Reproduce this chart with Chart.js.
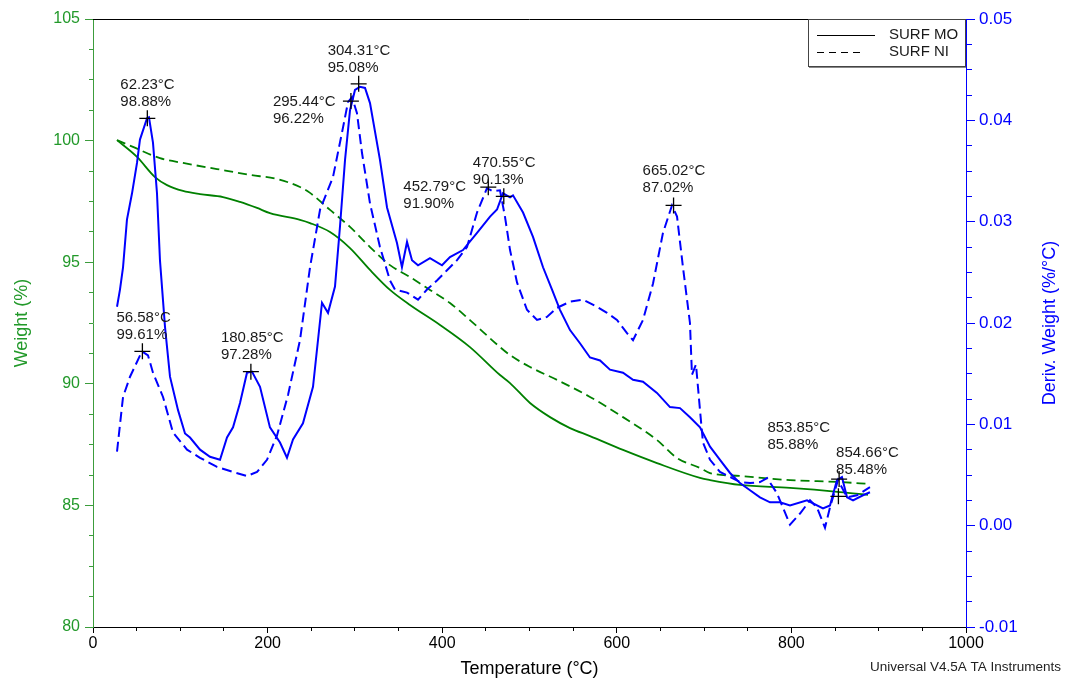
<!DOCTYPE html>
<html>
<head>
<meta charset="utf-8">
<title>TGA / DTG - SURF MO vs SURF NI</title>
<script src="https://cdn.jsdelivr.net/npm/chart.js@4.4.1/dist/chart.umd.min.js"></script>
<style>
  html, body { margin: 0; padding: 0; background: #fff; }
  #wrap { width: 1065px; height: 684px; }
</style>
</head>
<body>
<div id="wrap"><canvas id="tga-chart" width="1065" height="684"></canvas></div>
<script>
// ----------------------------------------------------------------
// Data
// ----------------------------------------------------------------

// Weight (%) — SURF MO (solid green)
const moWeightTemps = [27.5, 50.4, 71.0, 84.8, 103.1, 122.6, 148.9, 168.4, 187.9, 202.7, 237.1, 248.6, 271.5, 294.4, 317.3, 340.2, 363.1, 397.5, 431.8, 466.2, 477.7, 500.6, 523.5, 546.4, 569.3, 607.1, 646.0, 695.3, 706.8, 741.1, 798.4, 855.7, 887.7];
const moWeight      = [100.02, 99.33, 98.50, 98.17, 97.93, 97.80, 97.68, 97.48, 97.23, 97.02, 96.74, 96.61, 96.24, 95.58, 94.68, 93.86, 93.24, 92.42, 91.51, 90.36, 90.03, 89.21, 88.63, 88.18, 87.85, 87.28, 86.74, 86.13, 86.04, 85.84, 85.72, 85.55, 85.43];

// Weight (%) — SURF NI (dashed green)
const niWeightTemps = [27.5, 45.8, 76.7, 103.1, 142.0, 179.8, 210.8, 237.1, 248.6, 271.5, 294.4, 317.3, 340.2, 363.1, 386.0, 408.9, 431.8, 466.2, 477.7, 500.6, 531.5, 569.3, 607.1, 646.0, 668.9, 695.3, 706.8, 741.1, 798.4, 855.7, 890.0];
const niWeight      = [100.02, 99.74, 99.28, 99.08, 98.83, 98.59, 98.42, 98.09, 97.85, 97.15, 96.45, 95.62, 94.88, 94.39, 93.86, 93.32, 92.62, 91.51, 91.18, 90.69, 90.16, 89.46, 88.63, 87.69, 86.95, 86.54, 86.33, 86.21, 86.04, 85.96, 85.88];

// Deriv. weight (%/°C) — SURF MO (solid blue)
const moDerivTemps = [27.5, 30.9, 34.4, 38.9, 44.7, 50.4, 53.8, 61.9, 64.1, 68.7, 73.3, 76.7, 82.5, 88.2, 97.4, 105.4, 111.1, 122.6, 134.0, 145.5, 153.5, 160.4, 168.4, 176.4, 182.1, 191.3, 202.7, 214.2, 222.2, 229.1, 240.5, 252.0, 262.3, 269.2, 277.2, 282.9, 288.7, 294.4, 300.1, 305.8, 311.6, 317.3, 328.7, 336.8, 348.2, 353.9, 359.7, 365.4, 372.3, 386.0, 399.8, 408.9, 423.8, 439.9, 454.8, 462.8, 469.6, 477.7, 481.1, 492.6, 504.0, 515.5, 525.8, 534.9, 546.4, 557.8, 569.3, 580.8, 592.2, 607.1, 618.6, 630.0, 646.0, 660.9, 672.4, 683.8, 695.3, 706.8, 718.2, 729.7, 741.1, 752.6, 764.0, 775.5, 786.9, 798.4, 817.9, 836.2, 844.2, 852.2, 857.9, 863.7, 870.6, 882.0, 890.0];
const moDeriv      = [0.0216, 0.0233, 0.0255, 0.0302, 0.0328, 0.0358, 0.0381, 0.0402, 0.0403, 0.0378, 0.0328, 0.0262, 0.0196, 0.0147, 0.0114, 0.0091, 0.0087, 0.0075, 0.0068, 0.0065, 0.0087, 0.0097, 0.0121, 0.0151, 0.0152, 0.0137, 0.0097, 0.0082, 0.0067, 0.0085, 0.0101, 0.0137, 0.0220, 0.0210, 0.0236, 0.0295, 0.0361, 0.0410, 0.0430, 0.0433, 0.0432, 0.0417, 0.0361, 0.0314, 0.0279, 0.0255, 0.0280, 0.0262, 0.0257, 0.0264, 0.0257, 0.0265, 0.0272, 0.0289, 0.0305, 0.0312, 0.0328, 0.0324, 0.0326, 0.0309, 0.0285, 0.0255, 0.0233, 0.0213, 0.0193, 0.0180, 0.0166, 0.0163, 0.0154, 0.0151, 0.0144, 0.0142, 0.0131, 0.0117, 0.0116, 0.0107, 0.0097, 0.0078, 0.0065, 0.0052, 0.0042, 0.0035, 0.0028, 0.0023, 0.0023, 0.0020, 0.0025, 0.0017, 0.0020, 0.0045, 0.0048, 0.0028, 0.0025, 0.0030, 0.0033];

// Deriv. weight (%/°C) — SURF NI (dashed blue)
const niDerivTemps = [27.5, 34.4, 42.4, 56.1, 63.0, 68.7, 80.2, 91.6, 107.7, 122.6, 142.0, 160.4, 176.4, 187.9, 199.3, 210.8, 223.4, 237.1, 248.6, 260.1, 274.9, 286.4, 292.1, 296.7, 302.4, 308.1, 317.3, 328.7, 340.2, 345.9, 359.7, 372.3, 382.6, 394.0, 405.5, 417.0, 428.4, 439.9, 451.3, 458.2, 466.2, 471.9, 477.7, 485.7, 497.1, 508.6, 520.0, 531.5, 546.4, 561.3, 577.3, 588.8, 600.2, 611.7, 618.6, 630.0, 641.5, 652.9, 663.2, 669.0, 675.8, 683.8, 686.1, 690.7, 695.3, 698.7, 706.8, 718.2, 729.7, 741.1, 752.6, 764.0, 772.1, 783.5, 798.4, 809.9, 821.3, 829.3, 838.5, 844.2, 853.4, 863.7, 875.1, 890.0];
const niDeriv      = [0.0073, 0.0127, 0.0147, 0.0172, 0.0168, 0.0151, 0.0127, 0.0092, 0.0075, 0.0067, 0.0058, 0.0053, 0.0049, 0.0053, 0.0065, 0.0089, 0.0129, 0.0183, 0.0255, 0.0312, 0.0344, 0.0393, 0.0418, 0.0423, 0.0407, 0.0368, 0.0318, 0.0275, 0.0242, 0.0233, 0.0230, 0.0223, 0.0233, 0.0242, 0.0252, 0.0262, 0.0275, 0.0309, 0.0333, 0.0330, 0.0331, 0.0305, 0.0272, 0.0240, 0.0213, 0.0203, 0.0206, 0.0215, 0.0221, 0.0223, 0.0216, 0.0210, 0.0203, 0.0190, 0.0183, 0.0203, 0.0239, 0.0289, 0.0316, 0.0305, 0.0255, 0.0200, 0.0149, 0.0159, 0.0114, 0.0082, 0.0065, 0.0053, 0.0048, 0.0043, 0.0042, 0.0043, 0.0047, 0.0032, 0.0001, 0.0012, 0.0025, 0.0018, -0.0002, 0.0018, 0.0045, 0.0028, 0.0030, 0.0038];

// Peak markers: temperature, deriv value where the cross sits, weight at that point
const annoTemps   = [62.23, 56.58, 180.85, 295.44, 304.31, 452.79, 470.55, 665.02, 853.85, 854.66];
const annoDeriv   = [0.0402, 0.0172, 0.0152, 0.0419, 0.0436, 0.0334, 0.0325, 0.0316, 0.0029, 0.0046];
const annoWeights = ["98.88%", "99.61%", "97.28%", "96.22%", "95.08%", "91.90%", "90.13%", "87.02%", "85.88%", "85.48%"];

// Axis ranges / tick steps
const xRange     = [0, 1000];
const xMajor     = 200;
const xMinor     = 50;
const wRange     = [80, 105];
const wMajor     = 5;
const wMinor     = 1.25;
const dRange     = [-0.01, 0.05];
const dMajor     = 0.01;
const dMinor     = 0.0025;

const seriesNames = ["SURF MO", "SURF NI"];

// ----------------------------------------------------------------
// Styling
// ----------------------------------------------------------------

const FONT   = "'Liberation Sans', Arial, Helvetica, sans-serif";
const GREEN  = "#008000";
const GREEN_TXT = "#22992a";
const BLUE   = "#0000ff";

// where each peak label sits relative to its cross (pixels: dx, dy of first line)
const labelOffsets = [[-27, -33], [-26, -34], [-30, -34], [-78, 1], [-31, -33], [-85, 0], [-31, -33], [-31, -35], [-71, -68], [-3, -26]];

Chart.defaults.font.family = FONT;

function pairs(xs, ys) {
  return xs.map((x, i) => ({ x, y: ys[i] }));
}

function isMultiple(v, step) {
  const r = v / step;
  return Math.abs(r - Math.round(r)) < 1e-6;
}

// minor ticks are half the length of major ones: dash the tick stroke
function tickDash(step, fromOuter, minorLen) {
  return {
    dash: (ctx) => (ctx.tick && !isMultiple(ctx.tick.value, step)) ? [minorLen, 100] : [],
    offset: (ctx) => (ctx.tick && !isMultiple(ctx.tick.value, step) && fromOuter) ? -minorLen : 0,
  };
}

const xDash = tickDash(xMajor, false, 3);
const wDash = tickDash(wMajor, true, 4);
const dDash = tickDash(dMajor, false, 5);

// ----------------------------------------------------------------
// Extra drawing: frame top, legend box, peak crosses, right title, footer
// ----------------------------------------------------------------

const tgaDecorations = {
  id: "tgaDecorations",
  afterDatasetsDraw(chart) {
    const { ctx, chartArea: a, scales } = chart;
    ctx.save();

    // top edge of plot frame
    ctx.strokeStyle = "#000";
    ctx.lineWidth = 1;
    ctx.beginPath();
    ctx.moveTo(a.left, a.top + 0.5);
    ctx.lineTo(a.right, a.top + 0.5);
    ctx.stroke();

    // peak crosses + labels
    ctx.font = `15px ${FONT}`;
    ctx.fillStyle = "#1a1a1a";
    ctx.textAlign = "left";
    ctx.textBaseline = "middle";
    ctx.lineWidth = 1.3;
    annoTemps.forEach((t, i) => {
      const px = scales.x.getPixelForValue(t);
      const py = scales.yDeriv.getPixelForValue(annoDeriv[i]);
      ctx.beginPath();
      ctx.moveTo(px - 8, py); ctx.lineTo(px + 8, py);
      ctx.moveTo(px, py - 8); ctx.lineTo(px, py + 8);
      ctx.stroke();
      const [dx, dy] = labelOffsets[i];
      ctx.fillText(`${t.toFixed(2)}°C`, px + dx, py + dy);
      ctx.fillText(annoWeights[i], px + dx, py + dy + 17);
    });

    // legend box in top-right corner
    const w = 158, h = 47;
    const x0 = a.right - w, y0 = a.top;
    ctx.fillStyle = "#fff";
    ctx.fillRect(x0, y0, w, h);
    ctx.strokeStyle = "#444";
    ctx.lineWidth = 1;
    ctx.strokeRect(x0 + 0.5, y0 + 0.5, w - 1, h);
    ctx.strokeStyle = "#888";
    ctx.beginPath();
    ctx.moveTo(x0 + 1, y0 + h + 1.5);
    ctx.lineTo(a.right, y0 + h + 1.5);
    ctx.stroke();

    ctx.strokeStyle = "#000";
    ctx.beginPath();
    ctx.moveTo(x0 + 9, y0 + 16.5); ctx.lineTo(x0 + 67, y0 + 16.5);
    ctx.stroke();
    ctx.setLineDash([7, 5]);
    ctx.beginPath();
    ctx.moveTo(x0 + 9, y0 + 33.5); ctx.lineTo(x0 + 55, y0 + 33.5);
    ctx.stroke();
    ctx.setLineDash([]);

    ctx.fillStyle = "#1a1a1a";
    ctx.font = `15px ${FONT}`;
    ctx.fillText(seriesNames[0], x0 + 81, y0 + 16);
    ctx.fillText(seriesNames[1], x0 + 81, y0 + 33);

    ctx.restore();
  },
  afterDraw(chart) {
    const { ctx, chartArea: a } = chart;
    ctx.save();
    // right axis title reads bottom-to-top, like the left one
    ctx.translate(1050, (a.top + a.bottom) / 2);
    ctx.rotate(-Math.PI / 2);
    ctx.fillStyle = BLUE;
    ctx.font = `18px ${FONT}`;
    ctx.textAlign = "center";
    ctx.textBaseline = "middle";
    ctx.fillText("Deriv. Weight (%/°C)", 0, 0);
    ctx.restore();

    ctx.save();
    ctx.fillStyle = "#222";
    ctx.font = `13.5px ${FONT}`;
    ctx.textAlign = "right";
    ctx.textBaseline = "middle";
    ctx.fillText("Universal V4.5A TA Instruments", 1061, 667);
    ctx.restore();
  },
};

// ----------------------------------------------------------------
// Chart
// ----------------------------------------------------------------

new Chart(document.getElementById("tga-chart").getContext("2d"), {
  type: "line",
  data: {
    datasets: [
      {
        label: seriesNames[0] + " deriv",
        data: pairs(moDerivTemps, moDeriv),
        yAxisID: "yDeriv",
        borderColor: BLUE,
        borderWidth: 2,
        pointRadius: 0,
        tension: 0,
      },
      {
        label: seriesNames[1] + " deriv",
        data: pairs(niDerivTemps, niDeriv),
        yAxisID: "yDeriv",
        borderColor: BLUE,
        borderWidth: 2,
        borderDash: [10, 5],
        pointRadius: 0,
        tension: 0,
      },
      {
        label: seriesNames[0] + " weight",
        data: pairs(moWeightTemps, moWeight),
        yAxisID: "yWeight",
        borderColor: GREEN,
        borderWidth: 1.8,
        pointRadius: 0,
        cubicInterpolationMode: "monotone",
      },
      {
        label: seriesNames[1] + " weight",
        data: pairs(niWeightTemps, niWeight),
        yAxisID: "yWeight",
        borderColor: GREEN,
        borderWidth: 1.8,
        borderDash: [9, 5],
        pointRadius: 0,
        cubicInterpolationMode: "monotone",
      },
    ],
  },
  options: {
    responsive: false,
    animation: false,
    devicePixelRatio: 1,
    layout: { padding: { top: 19, left: 0, right: 0, bottom: 0 } },
    plugins: {
      legend: { display: false },
      tooltip: { enabled: false },
    },
    scales: {
      x: {
        type: "linear",
        position: "bottom",
        min: xRange[0],
        max: xRange[1],
        border: { display: true, color: "#000", width: 1 },
        grid: {
          display: true,
          drawOnChartArea: false,
          drawTicks: true,
          tickLength: 6,
          tickColor: "#000",
          tickWidth: 1,
          tickBorderDash: xDash.dash,
          tickBorderDashOffset: xDash.offset,
        },
        ticks: {
          stepSize: xMinor,
          autoSkip: false,
          maxRotation: 0,
          padding: 1,
          color: "#000",
          font: { size: 16 },
          callback: (v) => isMultiple(v, xMajor) ? String(Math.round(v)) : "",
        },
        title: {
          display: true,
          text: "Temperature (°C)",
          color: "#000",
          font: { size: 18 },
          padding: { top: 4, bottom: 4 },
        },
        afterFit: (s) => { s.height = 57; },
      },
      yWeight: {
        type: "linear",
        position: "left",
        min: wRange[0],
        max: wRange[1],
        border: { display: true, color: "#3c9c3c", width: 1 },
        grid: {
          display: true,
          drawOnChartArea: false,
          drawTicks: true,
          tickLength: 8,
          tickColor: "#3c9c3c",
          tickWidth: 1,
          tickBorderDash: (ctx) => (ctx.tick && !isMultiple(ctx.tick.value, wMajor)) ? [4, 4] : [],
          tickBorderDashOffset: (ctx) => (ctx.tick && !isMultiple(ctx.tick.value, wMajor)) ? 4 : 0,
        },
        ticks: {
          stepSize: wMinor,
          autoSkip: false,
          padding: 5,
          color: GREEN_TXT,
          font: { size: 16 },
          callback: (v) => isMultiple(v, wMajor) ? String(Math.round(v)) : "",
        },
        title: {
          display: true,
          text: "Weight (%)",
          color: GREEN_TXT,
          font: { size: 18 },
          padding: { top: 11, bottom: 0 },
        },
        afterFit: (s) => { s.width = 93; },
      },
      yDeriv: {
        type: "linear",
        position: "right",
        min: dRange[0],
        max: dRange[1],
        border: { display: true, color: BLUE, width: 1 },
        grid: {
          display: true,
          drawOnChartArea: false,
          drawTicks: true,
          tickLength: 9,
          tickColor: BLUE,
          tickWidth: 1,
          tickBorderDash: dDash.dash,
          tickBorderDashOffset: dDash.offset,
        },
        ticks: {
          stepSize: dMinor,
          autoSkip: false,
          padding: 4,
          color: BLUE,
          font: { size: 17 },
          callback: (v) => isMultiple(v, dMajor) ? (Math.abs(v) < 1e-9 ? "0.00" : v.toFixed(2)) : "",
        },
        title: { display: false },
        afterFit: (s) => { s.width = 99; },
      },
    },
  },
  plugins: [tgaDecorations],
});
</script>
</body>
</html>
